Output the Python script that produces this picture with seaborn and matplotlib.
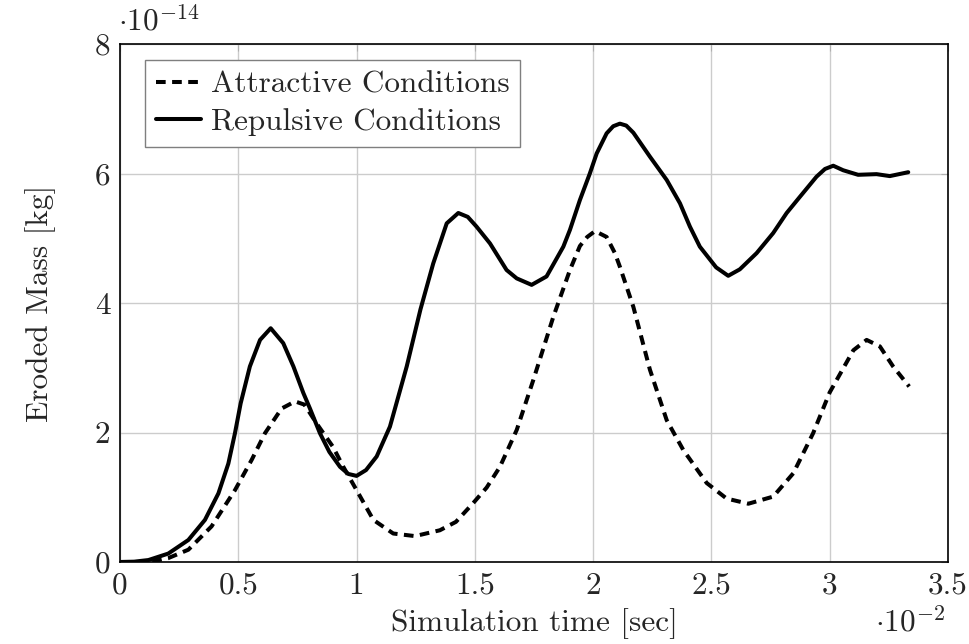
import numpy as np
import pandas as pd
import matplotlib
matplotlib.use("Agg")
import matplotlib.pyplot as plt
import seaborn as sns

# Data (x in units of 1e-2 s, y in units of 1e-14 kg)
rep_x = [0.0, 0.06, 0.12, 0.204, 0.289, 0.359, 0.416, 0.458, 0.486, 0.51, 0.549, 0.592,
         0.637, 0.69, 0.733, 0.775, 0.803, 0.845, 0.885, 0.93, 0.965, 1.0, 1.04, 1.085,
         1.141, 1.212, 1.27, 1.324, 1.381, 1.43, 1.47, 1.507, 1.564, 1.634, 1.677, 1.74,
         1.803, 1.874, 1.902, 1.944, 1.986, 2.015, 2.057, 2.085, 2.113, 2.14, 2.17,
         2.24, 2.311, 2.367, 2.409, 2.451, 2.52, 2.571, 2.62, 2.691, 2.761, 2.818,
         2.874, 2.944, 2.98, 3.015, 3.057, 3.12, 3.198, 3.254, 3.332]
rep_y = [0.0, 0.005, 0.03, 0.13, 0.34, 0.65, 1.06, 1.52, 1.99, 2.45, 3.02, 3.43,
         3.61, 3.38, 3.02, 2.61, 2.37, 1.99, 1.70, 1.47, 1.36, 1.33, 1.42, 1.63,
         2.09, 3.02, 3.90, 4.61, 5.23, 5.39, 5.33, 5.18, 4.92, 4.51, 4.38, 4.28,
         4.41, 4.87, 5.13, 5.59, 6.00, 6.31, 6.62, 6.73, 6.77, 6.74, 6.63,
         6.26, 5.90, 5.54, 5.18, 4.87, 4.55, 4.42, 4.52, 4.77, 5.08, 5.39,
         5.64, 5.95, 6.07, 6.12, 6.05, 5.98, 5.99, 5.96, 6.02]

att_x = [0.0, 0.1, 0.15, 0.204, 0.289, 0.387, 0.486, 0.557, 0.613, 0.683, 0.74, 0.78,
         0.831, 0.90, 0.944, 1.0, 1.071, 1.155, 1.247, 1.352, 1.42, 1.493, 1.55, 1.606,
         1.677, 1.747, 1.832, 1.902, 1.944, 1.975, 2.008, 2.057, 2.092, 2.113, 2.17,
         2.24, 2.311, 2.381, 2.48, 2.564, 2.656, 2.761, 2.846, 2.93, 3.0, 3.057, 3.1,
         3.156, 3.212, 3.268, 3.336]
att_y = [0.0, 0.0, 0.02, 0.06, 0.19, 0.55, 1.11, 1.58, 1.99, 2.37, 2.48, 2.43,
         2.14, 1.78, 1.47, 1.11, 0.65, 0.44, 0.40, 0.49, 0.62, 0.91, 1.15, 1.47,
         2.04, 2.81, 3.79, 4.51, 4.88, 5.02, 5.11, 5.02, 4.77, 4.56, 3.94,
         2.97, 2.19, 1.73, 1.22, 0.98, 0.90, 1.01, 1.37, 1.99, 2.62, 2.99, 3.27,
         3.43, 3.33, 3.02, 2.71]

x_ticks = [0, 0.5, 1, 1.5, 2, 2.5, 3, 3.5]
x_tick_labels = ["0", "0.5", "1", "1.5", "2", "2.5", "3", "3.5"]
y_ticks = [0, 2, 4, 6, 8]
y_tick_labels = ["0", "2", "4", "6", "8"]

sns.set_style("white")
plt.rcParams["font.family"] = ["cmr10", "DejaVu Serif"]
plt.rcParams["mathtext.fontset"] = "cm"
plt.rcParams["axes.unicode_minus"] = False

FS = 22.5

fig = plt.figure(figsize=(9.7, 6.44), dpi=100)
ax = fig.add_axes([120/970, 1-562/644, (948-120)/970, (562-44)/644])

df_a = pd.DataFrame({"x": att_x, "y": att_y})
df_r = pd.DataFrame({"x": rep_x, "y": rep_y})

sns.lineplot(data=df_a, x="x", y="y", ax=ax, color="black", lw=2.9, sort=False,
             linestyle=(0, (2.4, 1.6)), label="Attractive Conditions")
sns.lineplot(data=df_r, x="x", y="y", ax=ax, color="black", lw=2.9, sort=False,
             label="Repulsive Conditions")
for ln in ax.get_lines():
    ln.set_solid_joinstyle("round")
    ln.set_dash_joinstyle("round")

ax.set_xlim(0, 3.5)
ax.set_ylim(0, 8)
ax.set_xticks(x_ticks)
ax.set_xticklabels(x_tick_labels)
ax.set_yticks(y_ticks)
ax.set_yticklabels(y_tick_labels)
ax.tick_params(labelsize=FS, direction="in", length=5, width=0.8, color="#b0b0b0",
               top=True, right=True, pad=7)
ax.grid(True, color="#cccccc", lw=1.0)
for s in ax.spines.values():
    s.set_color("black")
    s.set_linewidth(1.2)

ax.set_xlabel("Simulation time [sec]", fontsize=FS, labelpad=6)
ax.set_ylabel("Eroded Mass [kg]", fontsize=FS, labelpad=28)

fig.text(118/970, 1-22/644, r"$\cdot 10^{-14}$", fontsize=FS, ha="left", va="center")
fig.text(945/970, 1-623/644, r"$\cdot 10^{-2}$", fontsize=FS, ha="right", va="center")

leg = ax.legend(loc="upper left", fontsize=FS, frameon=True, fancybox=False,
                handlelength=1.45, handletextpad=0.3, borderpad=0.35,
                labelspacing=0.3, borderaxespad=0.0,
                bbox_to_anchor=(25/828, 1-16/518))
leg.get_frame().set_edgecolor("#7f7f7f")
leg.get_frame().set_linewidth(1.0)
leg.get_frame().set_alpha(1.0)

fig.savefig("out.png", dpi=100)
